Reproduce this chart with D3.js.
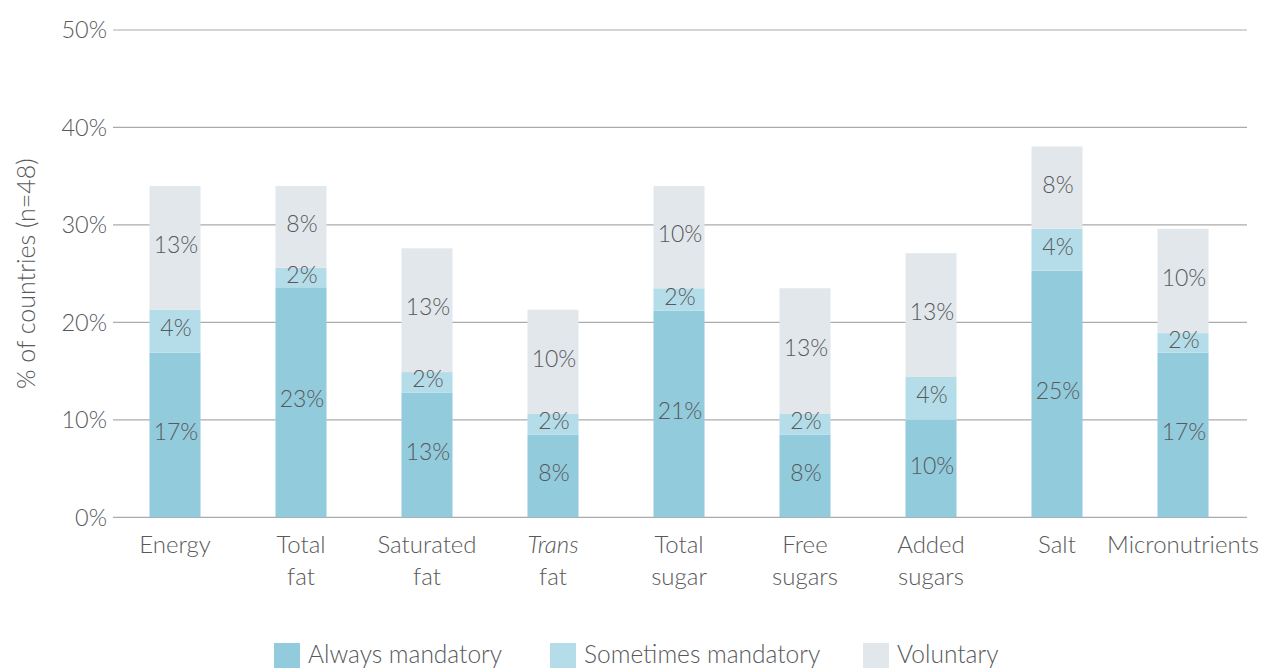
<!DOCTYPE html>
<html><head><meta charset="utf-8">
<script src="https://cdn.jsdelivr.net/npm/d3@7/dist/d3.min.js"></script>
<style>
html,body{margin:0;padding:0;background:#fff;}
svg{display:block;font-family:Lato, "Open Sans", sans-serif;font-weight:300;}
</style></head>
<body>
<svg id="chart" width="1262" height="668"></svg>
<script>
const categories = ["Energy","Total fat","Saturated fat","Trans fat","Total sugar","Free sugars","Added sugars","Salt","Micronutrients"];
const categoryLines = [["Energy"],["Total","fat"],["Saturated","fat"],["Trans","fat"],["Total","sugar"],["Free","sugars"],["Added","sugars"],["Salt"],["Micronutrients"]];
const alwaysMandatory = [16.9, 23.6, 12.8, 8.5, 21.2, 8.5, 10.0, 25.3, 16.9];
const sometimesMandatory = [4.4, 2.0, 2.1, 2.1, 2.3, 2.1, 4.4, 4.3, 2.0];
const voluntary = [12.7, 8.4, 12.7, 10.7, 10.5, 12.9, 12.7, 8.45, 10.7];
const alwaysLabels = ["17%","23%","13%","8%","21%","8%","10%","25%","17%"];
const sometimesLabels = ["4%","2%","2%","2%","2%","2%","4%","4%","2%"];
const voluntaryLabels = ["13%","8%","13%","10%","10%","13%","13%","8%","10%"];
const seriesNames = ["Always mandatory","Sometimes mandatory","Voluntary"];
const seriesColors = ["#92cbdc","#b5dde9","#e1e7eb"];
const yTicks = [0,10,20,30,40,50];

(function(){
const svg = d3.select("#chart");
const mLeft = 112, mRight = 1246, mTop = 30, mBottom = 517.3;
const textColor = "#58595b";

const x = d3.scaleBand().domain(categories).range([mLeft, mRight]).paddingInner(0.595).paddingOuter(0.2975);
const y = d3.scaleLinear().domain([0, 50]).range([mBottom, mTop]);

svg.append("g").selectAll("line").data(yTicks).join("line")
  .attr("x1", mLeft + 1).attr("x2", mRight + 1)
  .attr("y1", d => y(d)).attr("y2", d => y(d))
  .attr("stroke", "#ababab").attr("stroke-width", 1.2);

svg.append("g").selectAll("text").data(yTicks).join("text")
  .attr("x", 107).attr("y", d => y(d)).attr("dy", "0.35em")
  .attr("text-anchor", "end").attr("fill", textColor).attr("font-size", 23.5)
  .text(d => d + "%");

svg.append("text")
  .attr("transform", `translate(35,${(mTop + mBottom) / 2}) rotate(-90)`)
  .attr("text-anchor", "middle").attr("fill", textColor).attr("font-size", 25)
  .text("% of countries (n=48)");

const rows = categories.map((c, i) => ({cat: c, a: alwaysMandatory[i], s: sometimesMandatory[i], v: voluntary[i], i}));
const stack = d3.stack().keys(["a","s","v"])(rows);
const labelSets = [alwaysLabels, sometimesLabels, voluntaryLabels];

const g = svg.append("g");
stack.forEach((layer, k) => {
  g.append("g").selectAll("rect").data(layer).join("rect")
    .attr("x", d => x(d.data.cat))
    .attr("width", x.bandwidth())
    .attr("y", d => y(d[1]))
    .attr("height", d => y(d[0]) - y(d[1]))
    .attr("fill", seriesColors[k]);
});
stack.forEach((layer, k) => {
  g.append("g").selectAll("text").data(layer).join("text")
    .attr("x", d => x(d.data.cat) + x.bandwidth() / 2 + 1)
    .attr("y", d => (y(d[0]) + y(d[1])) / 2 - 3)
    .attr("dy", "0.35em")
    .attr("text-anchor", "middle").attr("fill", textColor).attr("font-size", 23)
    .text(d => labelSets[k][d.data.i]);
});

const xl = svg.append("g").selectAll("text").data(categories).join("text")
  .attr("x", d => x(d) + x.bandwidth() / 2)
  .attr("y", 553)
  .attr("text-anchor", "middle").attr("fill", textColor).attr("font-size", 24);
xl.each(function(d, i) {
  const t = d3.select(this);
  categoryLines[i].forEach((line, j) => {
    t.append("tspan").attr("x", x(d) + x.bandwidth() / 2).attr("dy", j === 0 ? 0 : 32)
      .attr("font-style", (d === "Trans fat" && j === 0) ? "italic" : null)
      .text(line);
  });
});

const legendX = [274, 550, 863];
const lg = svg.append("g").selectAll("g").data(seriesNames).join("g")
  .attr("transform", (d, i) => `translate(${legendX[i]},643)`);
lg.append("rect").attr("width", 26).attr("height", 26).attr("fill", (d, i) => seriesColors[i]);
lg.append("text").attr("x", 34).attr("y", 11).attr("dy", "0.35em")
  .attr("fill", textColor).attr("font-size", 24.5).text(d => d);
})();
</script>
</body></html>
